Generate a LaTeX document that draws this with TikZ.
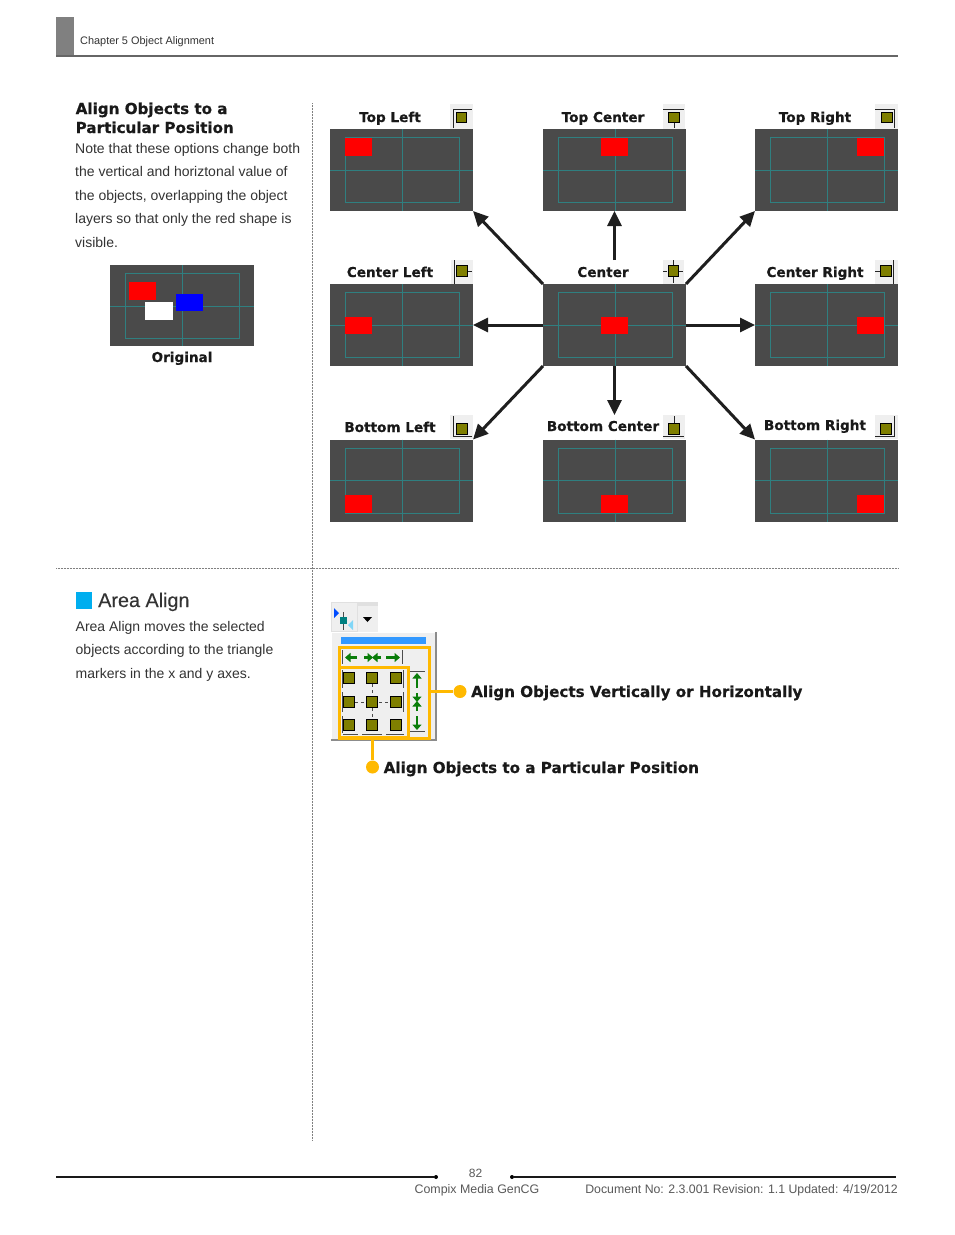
\documentclass[tikz,border=0pt]{standalone}
\usepackage{fontspec}
\setmainfont{Liberation Sans}
\newfontfamily\heavy{DejaVu Sans Bold}[FakeBold=0.5]
\newfontfamily\semi{Liberation Sans}[FakeBold=0.25]
\usetikzlibrary{arrows.meta}
\definecolor{panelgray}{HTML}{4A4A4A}
\definecolor{guide}{HTML}{2F7F80}
\definecolor{olive}{HTML}{7F7F00}
\definecolor{iconbg}{HTML}{EFEFEF}
\definecolor{gold}{HTML}{FFB900}
\definecolor{bodytxt}{HTML}{333333}
\definecolor{headgray}{HTML}{808080}
\definecolor{bargreen}{HTML}{0A7D0A}
\definecolor{areablue}{HTML}{00AEEF}
\definecolor{barblue}{HTML}{3399FF}
\tikzset{
  panelbox/.style={draw=none,fill=panelgray,minimum width=143pt,minimum height=82pt,inner sep=0,outer sep=0,anchor=north west},
  redmark/.style={fill=red,draw=none},
  head/.style={inner sep=0,anchor=base,font=\heavy\fontsize{13.6}{15}\selectfont,text=black!90},
  longhead/.style={inner sep=0,anchor=base west,font=\heavy\fontsize{15.15}{16}\selectfont,text=black!90},
  bodyline/.style={inner sep=0,anchor=base west,font=\fontsize{14}{16}\selectfont,text=bodytxt},
  bigarrow/.style={line width=3pt,draw=black!88,-{Triangle[length=15pt,width=14pt]},shorten <=0pt},
  iconline/.style={line width=.9pt,draw=black!85},
  squareicon/.style={fill=olive,draw=black,line width=.8pt,minimum size=10.5pt,inner sep=0,outer sep=0},
  goldline/.style={line width=3pt,draw=gold},
  golddot/.style={circle,fill=gold,draw=none,minimum size=13pt,inner sep=0},
  greenarrow/.style={line width=2.6pt,draw=bargreen,-{Triangle[length=5.5pt,width=9pt]}},
  dots/.style={densely dotted,line width=.5pt,draw=black!50},
}
\newcommand{\panelat}[5]{% name, x, y, red x offset, red y offset
  \node[panelbox] (#1) at (#2,#3) {};
  \draw[guide,line width=.7pt] (#2+15,#3+8.5) rectangle (#2+129,#3+73.5);
  \draw[guide,line width=.7pt] (#2+72,#3) -- (#2+72,#3+82);
  \draw[guide,line width=.7pt] (#2,#3+41) -- (#2+143,#3+41);
  \fill[redmark] (#2+#4,#3+#5) rectangle ++(27,17.5);
}
\newcommand{\iconbg}[4]{\fill[iconbg] (#1,#2) rectangle (#3,#4);}
\begin{document}
\begin{tikzpicture}[x=1pt,y=-1pt]
\useasboundingbox (0,0) rectangle (954,1235);
\fill[white] (0,0) rectangle (954,1235);
% header
\fill[headgray] (56,17) rectangle (74,56);
\draw[line width=1.2pt,draw=black!60] (56,56) -- (898,56);
\node[inner sep=0,anchor=west,font=\fontsize{10.9}{12}\selectfont,text=bodytxt] (chap) at (80,41.5) {Chapter 5 Object Alignment};
% dotted separators
\draw[dots] (312.5,103) -- (312.5,1140);
\draw[dots] (56,568) -- (898,568);
% left column
\node[longhead] (t1) at (75.5,114) {Align Objects to a};
\node[longhead] (t2) at (75.5,133) {Particular Position};
\node[bodyline] (b1) at (75,153) {Note that these options change both};
\node[bodyline] (b2) at (75,176) {the vertical and horiztonal value of};
\node[bodyline] (b3) at (75,200) {the objects, overlapping the object};
\node[bodyline] (b4) at (75,223) {layers so that only the red shape is};
\node[bodyline] (b5) at (75,247) {visible.};
% original
\node[panelbox,minimum width=144pt,minimum height=81pt] (orig) at (110,265) {};
\draw[guide,line width=.7pt] (125,273) rectangle (239,338);
\draw[guide,line width=.7pt] (182,265) -- (182,346);
\draw[guide,line width=.7pt] (110,306) -- (254,306);
\fill[red] (129,282) rectangle (156,300);
\fill[white] (145,302) rectangle (173,320);
\fill[blue] (176,294) rectangle (203,311);
\node[head] (origl) at (182,362) {Original};
% panels
\panelat{tl}{330}{129}{15}{9}
\panelat{tc}{543}{129}{58}{9}
\panelat{tr}{755}{129}{102}{9}
\panelat{cl}{330}{284}{15}{32.5}
\panelat{cc}{543}{284}{58}{32.5}
\panelat{cr}{755}{284}{102}{32.5}
\panelat{bl}{330}{439.5}{15}{55.5}
\panelat{bc}{543}{439.5}{58}{55.5}
\panelat{br}{755}{439.5}{102}{55.5}
% labels
\node[head] (ltl) at (390,122) {Top Left};
\node[head] (ltc) at (603,122) {Top Center};
\node[head] (ltr) at (815,122) {Top Right};
\node[head] (lcl) at (390,277) {Center Left};
\node[head] (lcc) at (603,277) {Center};
\node[head] (lcr) at (815,277) {Center Right};
\node[head] (lbl) at (390,432) {Bottom Left};
\node[head] (lbc) at (603,431) {Bottom Center};
\node[head] (lbr) at (815,430) {Bottom Right};
% icons
\iconbg{450}{104}{473}{129}
\draw[iconline] (453,128) -- (453,109) -- (472,109);
\node[squareicon] (itl) at (461.5,117.5) {};
\iconbg{663}{104}{685}{129}
\draw[iconline] (663,109) -- (684,109); \draw[iconline] (674,123) -- (674,128);
\node[squareicon] (itc) at (674,117.5) {};
\iconbg{875}{104}{898}{129}
\draw[iconline] (875,109) -- (894,109) -- (894,128);
\node[squareicon] (itr) at (887,117.5) {};
\iconbg{451}{260}{473}{284}
\draw[iconline] (454,260) -- (454,284); \draw[iconline] (468,271) -- (472,271);
\node[squareicon] (icl) at (462,271) {};
\iconbg{663}{260}{684}{284}
\draw[iconline] (663,271) -- (667,271) (679,271) -- (683,271) (673.5,260) -- (673.5,265) (673.5,277) -- (673.5,283);
\node[squareicon] (icc) at (673.5,271) {};
\iconbg{875}{260}{898}{284}
\draw[iconline] (893,260) -- (893,284); \draw[iconline] (875,271) -- (880,271);
\node[squareicon] (icr) at (886,271) {};
\iconbg{450}{415}{473}{439}
\draw[iconline] (453,416) -- (453,436) -- (472,436);
\node[squareicon] (ibl) at (462,429) {};
\iconbg{663}{415}{685}{439}
\draw[iconline] (663,436) -- (684,436); \draw[iconline] (674,416) -- (674,423);
\node[squareicon] (ibc) at (674,429) {};
\iconbg{875}{415}{898}{439}
\draw[iconline] (875,436) -- (894,436) -- (894,416);
\node[squareicon] (ibr) at (886,429) {};
% arrows
\coordinate (upstart) at (614.5,260);
\coordinate (dnend) at (614.5,415);
\draw[bigarrow] (cc.north west) -- (tl.south east);
\draw[bigarrow] (upstart) -- (upstart |- tc.south);
\draw[bigarrow] (cc.north east) -- (tr.south west);
\draw[bigarrow] (cc.west) -- (cl.east);
\draw[bigarrow] (cc.east) -- (cr.west);
\draw[bigarrow] (cc.south west) -- (bl.north east);
\draw[bigarrow] (dnend |- cc.south) -- (dnend);
\draw[bigarrow] (cc.south east) -- (br.north west);
% area align
\fill[areablue] (76,592) rectangle (92,609);
\node[inner sep=0,anchor=base west,font=\semi\fontsize{19.8}{20}\selectfont,text=bodytxt] (aa) at (98,607) {Area Align};
\node[bodyline] (a1) at (75.5,631) {Area Align moves the selected};
\node[bodyline] (a2) at (75.5,654) {objects according to the triangle};
\node[bodyline] (a3) at (75.5,678) {markers in the x and y axes.};
% toolbar
\fill[black!12] (331,602) rectangle (378,632);
\fill[iconbg] (331.5,603) rectangle (357,631);
\fill[iconbg] (358,605.5) rectangle (378,632);
\fill[blue!70!cyan] (334,608) -- (339,613) -- (334,618) -- cycle;
\fill[cyan!50] (353,620) -- (348,625) -- (353,630) -- cycle;
\draw[black!70,line width=.8pt] (343,612) -- (343,630);
\fill[teal] (339.5,616.5) rectangle (346.5,623.5);
\fill[black] (363,617) -- (372,617) -- (367.5,622) -- cycle;
% popup
\fill[iconbg] (331,632) rectangle (436,740);
\draw[white,line width=1pt] (331.5,740) -- (331.5,632.5) -- (435.5,632.5);
\draw[black!45,line width=1.2pt] (331,740) -- (436,740) -- (436,632);
\fill[barblue] (341,637) rectangle (426,644);
\draw[black!70,line width=.8pt] (342,650) -- (342,664) (402,650) -- (402,664);
\draw[greenarrow] (357,657.5) -- (345,657.5);
\draw[greenarrow] (364,657.5) -- (373,657.5);
\draw[greenarrow] (381,657.5) -- (372,657.5);
\draw[greenarrow] (386,657.5) -- (400,657.5);
\draw[black!70,line width=.8pt] (410,671.5) -- (425,671.5) (410,731) -- (425,731);
\draw[greenarrow] (417,688) -- (417,673);
\draw[greenarrow] (417,693) -- (417,702);
\draw[greenarrow] (417,711) -- (417,701);
\draw[greenarrow] (417,716) -- (417,730);
\draw[black!70,line width=.8pt,dashed] (355,702) -- (390,702) (372,684) -- (372,719);
\draw[black!70,line width=.8pt] (342,670) -- (342,688) (342,692) -- (342,712) (342,716) -- (342,733) (343,734) -- (358,734) (362,734) -- (382,734) (386,734) -- (404,734) (403,670) -- (403,688) (403,692) -- (403,712);
\foreach \n/\qx/\qy in {a/349/678,b/372/678,c/396/678,d/349/702,e/372/702,f/396/702,g/349/725,h/372/725,i/396/725}
  \node[squareicon] (q\n) at (\qx,\qy) {};
\node[draw=gold,line width=3pt,minimum width=90pt,minimum height=91pt,inner sep=0,outer sep=0,anchor=north west] (outerbox) at (339.5,647.5) {};
\node[draw=gold,line width=3pt,minimum width=69pt,minimum height=70pt,inner sep=0,outer sep=0,anchor=north west] (innerbox) at (339.5,667.5) {};
\node[golddot] (dotv) at (460,691.5) {};
\node[golddot] (dotp) at (372.5,767) {};
\draw[goldline] (outerbox.east |- dotv) -- (dotv);
\draw[goldline] (dotp |- outerbox.south) -- (dotp);
\node[longhead] (lv) at (471,697) {Align Objects Vertically or Horizontally};
\node[longhead] (lp) at (383.5,773) {Align Objects to a Particular Position};
% footer
\node[circle,fill=black,inner sep=0,minimum size=4pt] (fl) at (436,1177) {};
\node[circle,fill=black,inner sep=0,minimum size=4pt] (fr) at (512,1177) {};
\coordinate (fa) at (56,1177);
\coordinate (fb) at (896,1177);
\draw[line width=1.5pt,black!90] (fa) -- (fl);
\draw[line width=1.5pt,black!90] (fr) -- (fb);
\node[inner sep=0,font=\fontsize{12}{14}\selectfont,text=black!65] (pg) at (475.5,1173) {82};
\node[inner sep=0,font=\fontsize{12.4}{14}\selectfont,text=black!65] (co) at (477,1190) {Compix Media GenCG};
\node[inner sep=0,anchor=east,font=\fontsize{12.3}{14}\selectfont,text=black!65] (doc) at (898,1190.5) {Document No: 2.3.001 Revision: 1.1 Updated: 4/19/2012};
\end{tikzpicture}
\end{document}
